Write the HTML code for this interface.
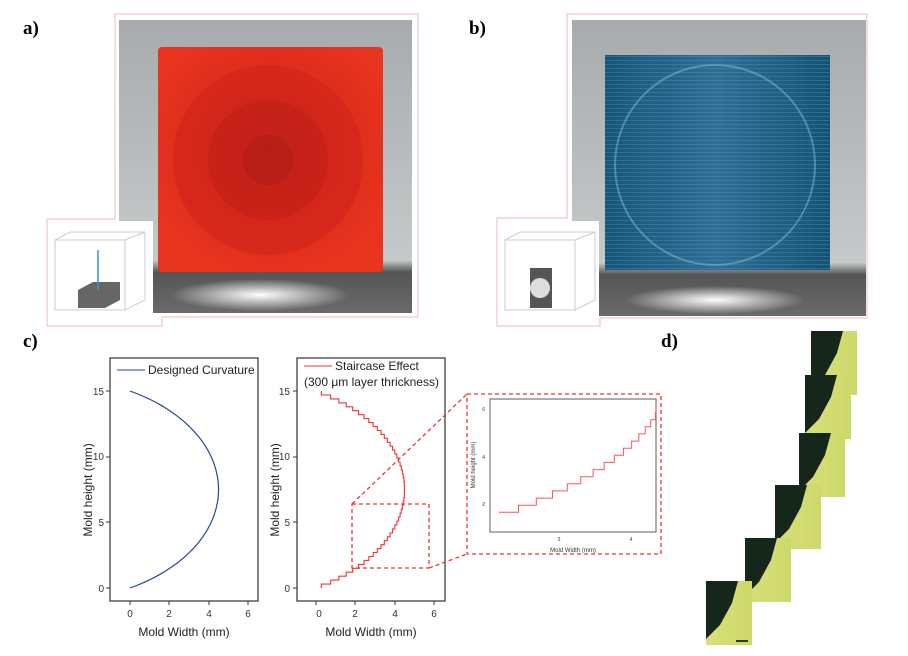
<!DOCTYPE html>
<html><head><meta charset="utf-8"><style>
body{margin:0;background:#fff;width:908px;height:656px;overflow:hidden;font-family:"Liberation Sans",sans-serif}
.lbl{position:absolute;font-family:"Liberation Serif",serif;font-weight:bold;font-size:19px}
</style></head><body>
<svg width="908" height="656" style="position:absolute;left:0;top:0" font-family="Liberation Sans, sans-serif">
<defs>
<linearGradient id="bg" x1="0" y1="0" x2="0" y2="1"><stop offset="0" stop-color="#a7abad"/><stop offset="0.82" stop-color="#c6c9ca"/><stop offset="0.86" stop-color="#555"/><stop offset="1" stop-color="#6a6a6c"/></linearGradient>
<radialGradient id="glow" cx="0.5" cy="0.5" r="0.5"><stop offset="0" stop-color="#fff"/><stop offset="1" stop-color="#fff" stop-opacity="0"/></radialGradient>
<radialGradient id="red" cx="0.5" cy="0.45" r="0.6"><stop offset="0" stop-color="#c8231a"/><stop offset="0.5" stop-color="#dc2b1c"/><stop offset="1" stop-color="#e8351f"/></radialGradient>
<linearGradient id="blue" x1="0" y1="0" x2="1" y2="0"><stop offset="0" stop-color="#17557a"/><stop offset="0.5" stop-color="#2f6f95"/><stop offset="1" stop-color="#155276"/></linearGradient>
<pattern id="hl" width="4" height="4" patternUnits="userSpaceOnUse"><rect width="4" height="1" fill="#5b97b8" opacity="0.35"/></pattern>
<linearGradient id="yl" x1="0" y1="0" x2="1" y2="0"><stop offset="0" stop-color="#d8e07a"/><stop offset="1" stop-color="#cdd86a"/></linearGradient>
</defs>
<polygon points="115,14 418,14 418,317 162,317 162,326 47,326 47,219 115,219" fill="none" stroke="#f4b8b8" stroke-width="1"/>
<rect x="119" y="20" width="293" height="293" fill="url(#bg)"/>
<ellipse cx="260" cy="295" rx="90" ry="16" fill="url(#glow)"/>
<rect x="158" y="47" width="225" height="225" rx="4" fill="url(#red)"/>
<circle cx="268" cy="160" r="95" fill="#c92218" opacity="0.45"/>
<circle cx="268" cy="160" r="60" fill="#b81d16" opacity="0.4"/>
<circle cx="268" cy="160" r="25" fill="#a81a14" opacity="0.4"/>
<rect x="53" y="221" width="100" height="100" fill="#fff"/>
<g stroke="#ccc" fill="none"><rect x="55" y="240" width="70" height="70"/><path d="M55,240 L70,232 L145,232 L145,300 L125,310 M125,240 L145,232"/></g>
<path d="M78,290 L93,282 L120,282 L120,300 L105,308 L78,308Z" fill="#666"/>
<line x1="98" y1="290" x2="98" y2="250" stroke="#2a9ad8" stroke-width="1.5"/>
<polygon points="567,14 867,14 867,318 600,318 600,326 497,326 497,218 567,218" fill="none" stroke="#f4b8b8"/>
<rect x="572" y="20" width="294" height="296" fill="url(#bg)"/>
<ellipse cx="715" cy="300" rx="90" ry="14" fill="url(#glow)"/>
<rect x="605" y="55" width="225" height="215" fill="url(#blue)"/>
<rect x="605" y="55" width="225" height="215" fill="url(#hl)"/>
<circle cx="715" cy="165" r="100" fill="none" stroke="#8ab8cf" stroke-width="2" opacity="0.5"/>
<rect x="503" y="221" width="96" height="100" fill="#fff"/>
<g stroke="#ccc" fill="none"><rect x="505" y="240" width="70" height="70"/><path d="M505,240 L520,232 L595,232 L595,300 L575,310 M575,240 L595,232"/></g>
<rect x="530" y="268" width="22" height="40" fill="#555"/>
<circle cx="540" cy="288" r="10" fill="#ddd"/>
<rect x="110" y="358" width="148" height="243" fill="none" stroke="#333" stroke-width="1.2"/>
<g font-size="10" fill="#333" text-anchor="middle">
<text x="130" y="617">0</text><text x="169" y="617">2</text><text x="209" y="617">4</text><text x="248" y="617">6</text>
<text x="319" y="617">0</text><text x="355" y="617">2</text><text x="395" y="617">4</text><text x="434" y="617">6</text>
</g>
<g font-size="10" fill="#333" text-anchor="end">
<text x="104" y="592">0</text><text x="104" y="526">5</text><text x="104" y="460">10</text><text x="104" y="395">15</text>
<text x="290" y="592">0</text><text x="290" y="526">5</text><text x="290" y="460">10</text><text x="290" y="395">15</text>
</g>
<g stroke="#333"><path d="M110,588h-4M110,522h-4M110,457h-4M110,391h-4M130,601v4M169,601v4M209,601v4M248,601v4"/>
<path d="M297,588h-4M297,522h-4M297,457h-4M297,391h-4M316,601v4M355,601v4M395,601v4M434,601v4"/></g>
<text x="184" y="636" font-size="12" text-anchor="middle" fill="#222">Mold Width (mm)</text>
<text x="371" y="636" font-size="12" text-anchor="middle" fill="#222">Mold Width (mm)</text>
<text transform="translate(92,490) rotate(-90)" font-size="12" text-anchor="middle" fill="#222">Mold height (mm)</text>
<text transform="translate(279,490) rotate(-90)" font-size="12" text-anchor="middle" fill="#222">Mold height (mm)</text>
<line x1="117" y1="370" x2="145" y2="370" stroke="#2845a0"/>
<text x="148" y="374" font-size="12" fill="#222">Designed Curvature</text>
<path id="c1" fill="none" stroke="#2845a0" stroke-width="1.2"/>
<rect x="297" y="358" width="148" height="243" fill="none" stroke="#333" stroke-width="1.2"/>
<line x1="304" y1="366" x2="332" y2="366" stroke="#e33"/>
<text x="335" y="370" font-size="12" fill="#222">Staircase Effect</text>
<text x="304" y="386" font-size="12" fill="#222">(300 μm layer thrickness)</text>
<path id="c2" fill="none" stroke="#e33" stroke-width="1.1"/>
<g stroke="#e33" stroke-width="1.3" stroke-dasharray="4,3" fill="none">
<rect x="352" y="504" width="77" height="64"/>
<line x1="352" y1="504" x2="467" y2="394"/><line x1="429" y1="568" x2="467" y2="554"/>
<rect x="467" y="394" width="194" height="160"/>
</g>
<rect x="490" y="399" width="166" height="133" fill="none" stroke="#777" stroke-width="1.2"/>
<path id="c3" fill="none" stroke="#f55" stroke-width="1"/>
<g font-size="5" fill="#333"><text x="485" y="411" text-anchor="end">6</text><text x="485" y="459" text-anchor="end">4</text><text x="485" y="506" text-anchor="end">2</text>
<text x="559" y="541" text-anchor="middle">3</text><text x="631" y="541" text-anchor="middle">4</text>
<text x="573" y="552" text-anchor="middle" font-size="6">Mold Width (mm)</text>
<text transform="translate(475,465) rotate(-90)" text-anchor="middle" font-size="6">Mold height (mm)</text></g>
<g id="tiles"></g>
<line x1="736" y1="641" x2="748" y2="641" stroke="#000" stroke-width="1.5"/>
</svg>
<div class="lbl" style="left:23px;top:18px">a)</div>
<div class="lbl" style="left:469px;top:18px">b)</div>
<div class="lbl" style="left:23px;top:331px">c)</div>
<div class="lbl" style="left:661px;top:331px">d)</div>
<script>
function X(y){return Math.sqrt(72.25-(y-7.5)*(y-7.5))-4;}
var d="";for(var i=0;i<=100;i++){var y=i*0.15;d+=(i?"L":"M")+(130+X(y)*19.67).toFixed(1)+","+(588-y*13.13).toFixed(1);}
document.getElementById("c1").setAttribute("d",d);
var s="",t="";var fx=function(x){return 316+x*19.67},fy=function(y){return 588-y*13.13};
for(var k=0;k<50;k++){var y0=k*0.3,y1=y0+0.3,x=X(y0+0.15);
s+=(k?"L":"M")+fx(x).toFixed(1)+","+fy(y0).toFixed(1)+"L"+fx(x).toFixed(1)+","+fy(y1).toFixed(1);}
document.getElementById("c2").setAttribute("d",s);
var gx=function(x){return 559+(x-3)*72},gy=function(y){return 504-(y-2)*23.75};
var first=true;for(var k=5;k<21;k++){var y0=k*0.3,x=X(y0+0.15),xn=X(y0+0.45);
var xa=Math.max(gx(x),490),xb=Math.min(gx(xn),656);if(gx(x)>656)break;
t+=(first?"M":"L")+xa.toFixed(1)+","+gy(y0+0.15).toFixed(1)+"L"+xb.toFixed(1)+","+gy(y0+0.15).toFixed(1)+"L"+xb.toFixed(1)+","+gy(y0+0.45).toFixed(1);first=false;}
document.getElementById("c3").setAttribute("d",t);
var T=[[811,331],[805,375],[799,433],[775,485],[745,538],[706,581]];var g="";
for(var j=0;j<T.length;j++){var a=T[j][0],b=T[j][1];
g+='<rect x="'+a+'" y="'+b+'" width="46" height="64" fill="url(#yl)"/>';
g+='<polygon points="'+a+','+b+' '+(a+32)+','+b+' '+(a+26)+','+(b+22)+' '+(a+14)+','+(b+44)+' '+a+','+(b+58)+'" fill="#15261a"/>';}
document.getElementById("tiles").innerHTML=g;
</script>
</body></html>
